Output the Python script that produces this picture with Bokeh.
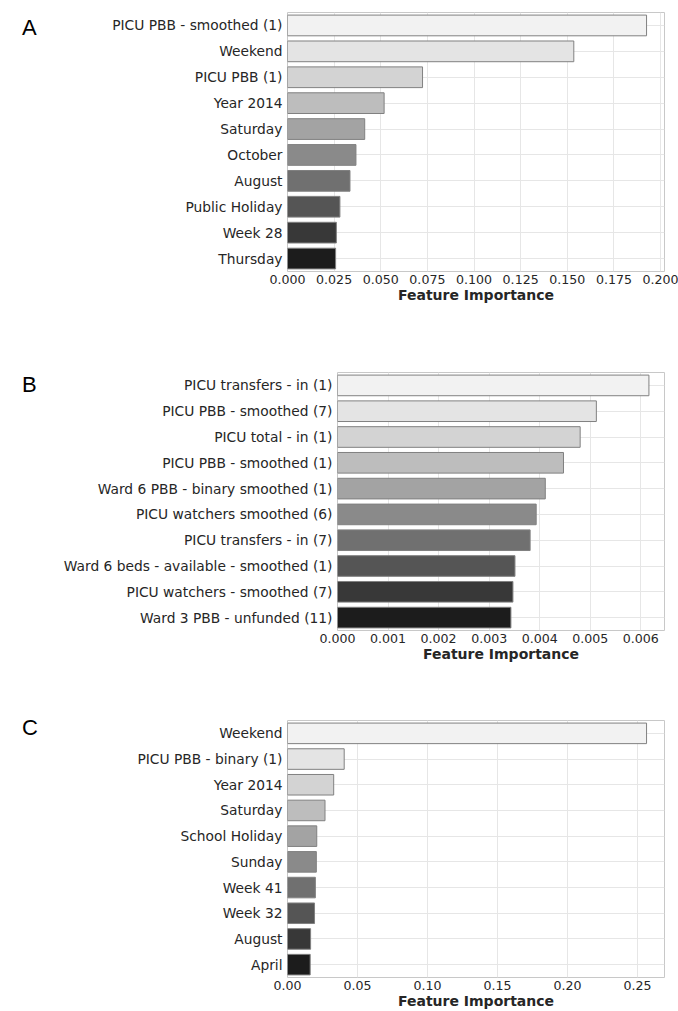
from bokeh.plotting import figure
from bokeh.models import Range1d, FixedTicker, PrintfTickFormatter, ColumnDataSource, Div
from bokeh.layouts import column, row
from bokeh.embed import file_html
from bokeh.resources import INLINE

# ---- data ----
a_features = ["PICU PBB - smoothed (1)", "Weekend", "PICU PBB (1)", "Year 2014", "Saturday",
              "October", "August", "Public Holiday", "Week 28", "Thursday"]
a_importance = [0.1925, 0.1535, 0.0724, 0.0518, 0.0414, 0.0367, 0.0335, 0.0281, 0.0262, 0.0258]
a_ticks = [0.0, 0.025, 0.05, 0.075, 0.1, 0.125, 0.15, 0.175, 0.2]

b_features = ["PICU transfers - in (1)", "PICU PBB - smoothed (7)", "PICU total - in (1)",
              "PICU PBB - smoothed (1)", "Ward 6 PBB - binary smoothed (1)", "PICU watchers smoothed (6)",
              "PICU transfers - in (7)", "Ward 6 beds - available - smoothed (1)",
              "PICU watchers - smoothed (7)", "Ward 3 PBB - unfunded (11)"]
b_importance = [0.00616, 0.00512, 0.00480, 0.00447, 0.00411, 0.00393, 0.00381, 0.00351, 0.00347, 0.00343]
b_ticks = [0.0, 0.001, 0.002, 0.003, 0.004, 0.005, 0.006]

c_features = ["Weekend", "PICU PBB - binary (1)", "Year 2014", "Saturday", "School Holiday",
              "Sunday", "Week 41", "Week 32", "August", "April"]
c_importance = [0.2565, 0.0405, 0.0330, 0.0268, 0.0209, 0.0206, 0.0199, 0.0193, 0.0165, 0.0162]
c_ticks = [0.0, 0.05, 0.1, 0.15, 0.2, 0.25]

# ---- style ----
GREYS = ["#f2f2f2", "#e4e4e4", "#d3d3d3", "#bdbdbd", "#a3a3a3",
         "#8a8a8a", "#707070", "#555555", "#383838", "#1c1c1c"]
TEXT = "#262626"
FONT = "DejaVu Sans"
LEFT_W = 60


def panel(features, values, ticks, fmt, letter, height, top, bottom, letter_top):
    xmax = max(values) * 1.05
    p = figure(y_range=list(reversed(features)), x_range=Range1d(0, xmax),
               width=678 - LEFT_W, height=height,
               min_border_left=287 - LEFT_W, min_border_right=14,
               min_border_top=top, min_border_bottom=bottom,
               output_backend="svg", toolbar_location=None)
    src = ColumnDataSource(dict(feature=features, value=values, color=GREYS[:len(features)]))
    p.hbar(y="feature", right="value", left=0, height=0.8, fill_color="color",
           line_color="#808080", line_width=1, source=src)

    p.outline_line_color = "#c8c8c8"
    p.outline_line_width = 1
    p.background_fill_color = "white"
    p.border_fill_color = "white"

    p.xgrid.grid_line_color = "#e6e6e6"
    p.ygrid.grid_line_color = "#e6e6e6"
    p.xgrid.grid_line_width = 1
    p.ygrid.grid_line_width = 1

    for ax in (p.xaxis[0], p.yaxis[0]):
        ax.axis_line_color = None
        ax.major_tick_line_color = None
        ax.minor_tick_line_color = None
        ax.major_tick_out = 0
        ax.major_tick_in = 0
        ax.major_label_text_font = FONT
        ax.major_label_text_color = TEXT

    p.yaxis.major_label_text_font_size = "13.8px"
    p.yaxis.major_label_standoff = 5

    p.xaxis.ticker = FixedTicker(ticks=ticks)
    p.xaxis.formatter = PrintfTickFormatter(format=fmt)
    p.xaxis.major_label_text_font_size = "12.6px"
    p.xaxis.major_label_standoff = 3
    p.xaxis.axis_label = "Feature Importance"
    p.xaxis.axis_label_text_font = FONT
    p.xaxis.axis_label_text_font_style = "bold"
    p.xaxis.axis_label_text_font_size = "14px"
    p.xaxis.axis_label_text_color = TEXT
    p.xaxis.axis_label_standoff = 0

    letter_div = Div(
        text=('<div style="margin:%dpx 0 0 22px; font-family:\'Liberation Sans\', Arial, sans-serif; '
              'font-size:22px; line-height:22px; color:#000;">%s</div>') % (letter_top, letter),
        width=LEFT_W, height=height, margin=(0, 0, 0, 0))
    return row(letter_div, p, spacing=0)


pa = panel(a_features, a_importance, a_ticks, "%.3f", "A", 320, 12, 49, 17)
pb = panel(b_features, b_importance, b_ticks, "%.3f", "B", 360, 52, 50, 54)
pc = panel(c_features, c_importance, c_ticks, "%.2f", "C", 331, 40, 32, 37)

layout = column(pa, pb, pc, spacing=0)
open("out.html", "w").write(file_html(layout, INLINE))
